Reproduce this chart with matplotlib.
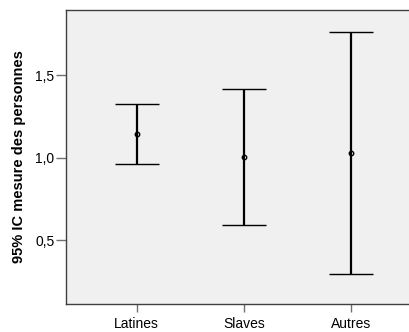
import matplotlib.pyplot as plt

plt.rcParams["font.family"] = ["Liberation Sans", "DejaVu Sans"]

groups = ["Latines", "Slaves", "Autres"]
means = [1.142, 1.006, 1.029]
lower = [0.958, 0.593, 0.296]
upper = [1.326, 1.415, 1.759]
yticks = [0.5, 1.0, 1.5]
ytick_labels = ["0,5", "1,0", "1,5"]

fig = plt.figure(figsize=(4.09, 3.32), dpi=100)
ax = fig.add_axes([0.1606, 0.0843, 0.871, 0.8855])
ax.set_facecolor("#f0f0f0")

x = list(range(len(groups)))
err_lo = [m - lo for m, lo in zip(means, lower)]
err_hi = [hi - m for m, hi in zip(means, upper)]
ax.errorbar(x, means, yerr=[err_lo, err_hi], fmt="o", color="black",
            markersize=3.2, markerfacecolor="none", markeredgewidth=1.0,
            elinewidth=1.6, capsize=15.5, capthick=1.6)

ax.set_xlim(-0.66, 2.66)
ax.set_ylim(0.112, 1.894)
ax.set_xticks(x)
ax.set_xticklabels(groups)
ax.set_yticks(yticks)
ax.set_yticklabels(ytick_labels)

ax.tick_params(axis="y", length=7, width=1, color="#707070", labelsize=10, pad=1)
ax.tick_params(axis="x", length=6, width=1, color="#707070", labelsize=10, pad=3.5)
for s in ax.spines.values():
    s.set_color("#404040")
    s.set_linewidth(1.0)

ax.set_ylabel("95% IC mesure des personnes", fontsize=10.5, fontweight="bold", labelpad=7)

fig.savefig("out.png", dpi=100)
